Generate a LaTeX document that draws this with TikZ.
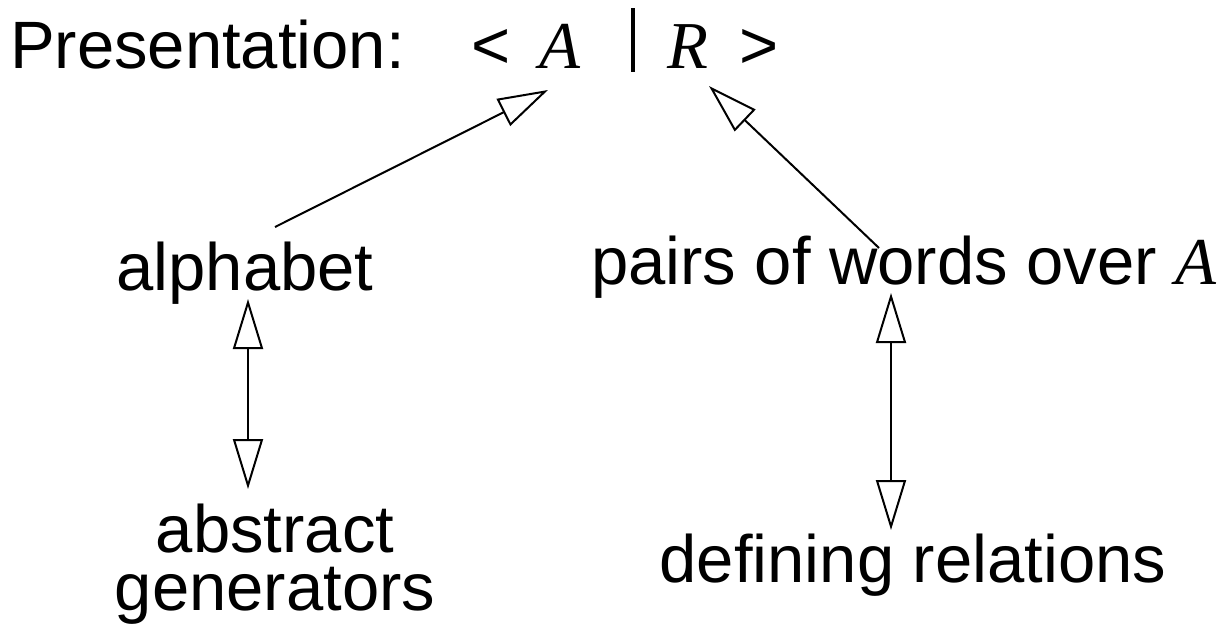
\documentclass[tikz,border=0pt]{standalone}
\usepackage{fontspec}
\setmainfont{Liberation Sans}
\newfontfamily\varfont{Liberation Serif}
\usetikzlibrary{arrows.meta}

\newcommand{\var}[1]{{\varfont\itshape #1}}

\tikzset{
  lbl/.style={inner sep=0pt, outer sep=0pt, font=\fontsize{67}{58}\selectfont},
  link/.style={line width=2pt, -{Triangle[open, length=50pt, width=30pt]}},
  twoway/.style={line width=2pt, {Triangle[open, length=50pt, width=30pt]}-{Triangle[open, length=50pt, width=30pt]}}
}

\begin{document}
\begin{tikzpicture}[x=1pt, y=-1pt]
  \useasboundingbox (0,0) rectangle (1222,630);

  % heading: Presentation: < A | R >
  \node[lbl, anchor=base west] (pres) at (10,68) {Presentation:};
  \node[lbl, anchor=base west] (lt)   at (471,68) {<};
  \node[lbl, anchor=base west] (genA) at (539,68) {\var{A}};
  \node[lbl, anchor=base west] (relR) at (667,68) {\var{R}};
  \node[lbl, anchor=base west] (gt)   at (739,68) {>};
  \draw[line width=4.5pt] (633,8) -- (633,72);

  % middle row
  \node[lbl, anchor=base] (alpha) at (245,290) {alphabet};
  \node[lbl, anchor=base west] (pairs) at (591,284) {pairs of words over \var{A}};

  % bottom row (base = baseline of the last line)
  \node[lbl, anchor=base, align=center] (gens) at (275,610) {abstract\\generators};
  \node[lbl, anchor=base] (defrel) at (913,582) {defining relations};

  % connectors
  \draw[link] ([shift={(30,-63)}]alpha.base) -- ([shift={(9,22)}]genA.base west);
  \draw[link] ([shift={(288,-36)}]pairs.base west) -- ([shift={(42,18)}]relR.base west);
  \draw[twoway] ([shift={(3,9)}]alpha.base) -- ([shift={(-27,-121)}]gens.base);
  \draw[twoway] ([shift={(300,9)}]pairs.base west) -- ([shift={(-22,-52)}]defrel.base);
\end{tikzpicture}
\end{document}
